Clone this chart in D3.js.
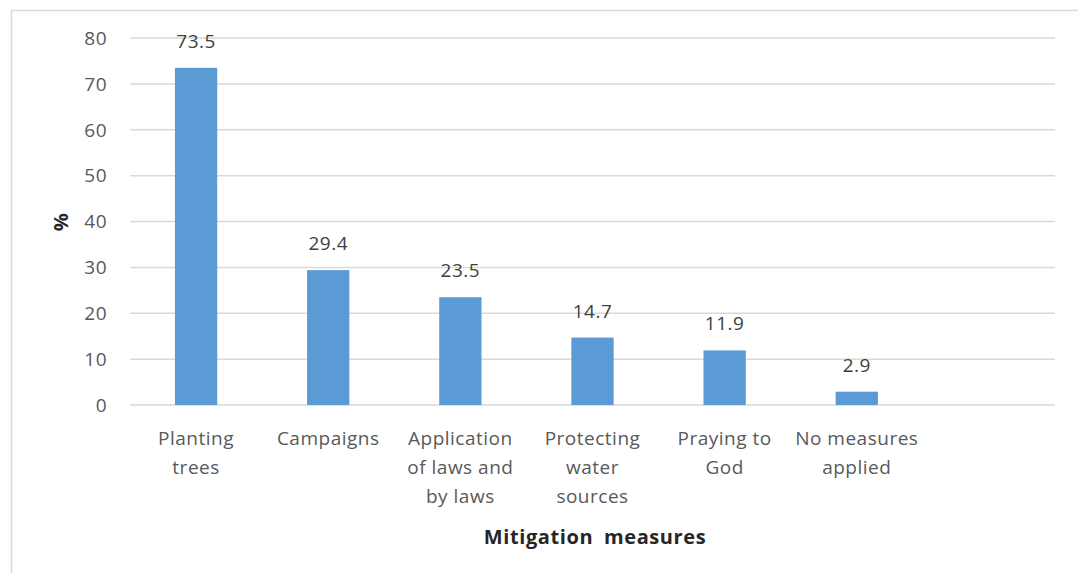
<!DOCTYPE html>
<html lang="en">
<head>
  <meta charset="UTF-8">
  <title>Mitigation measures</title>
  <script src="https://d3js.org/d3.v7.min.js"></script>
  <style>
    body { margin: 0; background: #fff; }
    text { font-family: "Open Sans", sans-serif; }
    .grid line { stroke: #d9d9d9; stroke-width: 1.5px; }
    .tick-label { font-size: 19px; fill: #595959; letter-spacing: 0.5px; }
    .value-label { font-size: 19px; fill: #404040; letter-spacing: 0.5px; }
    .axis-title { font-size: 20px; font-weight: bold; fill: #262626; letter-spacing: 0.6px; word-spacing: 5px; }
  </style>
</head>
<body>
  <svg id="chart" width="1078" height="573"></svg>
  <script>
    // data
    const categories = ["Planting trees", "Campaigns", "Application of laws and by laws",
      "Protecting water sources", "Praying to God", "No measures applied", ""];
    const values = [73.5, 29.4, 23.5, 14.7, 11.9, 2.9, null];
    const categoryLines = [
      ["Planting", "trees"],
      ["Campaigns"],
      ["Application", "of laws and", "by laws"],
      ["Protecting", "water", "sources"],
      ["Praying to", "God"],
      ["No measures", "applied"],
      []
    ];
    const yTicks = [0, 10, 20, 30, 40, 50, 60, 70, 80];

    const width = 1078, height = 573;
    const margin = { top: 38, right: 23, bottom: 168, left: 130 };

    const svg = d3.select("#chart");

    // outer chart border
    svg.append("rect")
      .attr("x", 11.5).attr("y", 10.5)
      .attr("width", width + 20).attr("height", height + 20)
      .attr("fill", "none")
      .attr("stroke", "#d9d9d9")
      .attr("stroke-width", 1.5);

    const x = d3.scaleBand()
      .domain(categories.map((d, i) => i))
      .range([margin.left, width - margin.right])
      .paddingInner(0.68)
      .paddingOuter(0.34);

    const y = d3.scaleLinear()
      .domain([0, 80])
      .range([height - margin.bottom, margin.top]);

    // gridlines
    svg.append("g").attr("class", "grid")
      .selectAll("line")
      .data(yTicks)
      .join("line")
      .attr("x1", margin.left)
      .attr("x2", width - margin.right)
      .attr("y1", d => y(d))
      .attr("y2", d => y(d));

    // y tick labels
    svg.append("g")
      .selectAll("text")
      .data(yTicks)
      .join("text")
      .attr("class", "tick-label")
      .attr("x", 107)
      .attr("y", d => y(d))
      .attr("dy", "0.36em")
      .attr("text-anchor", "end")
      .text(d => d);

    const bars = values.map((v, i) => ({ i, v })).filter(d => d.v != null);

    // bars
    svg.append("g")
      .selectAll("rect")
      .data(bars)
      .join("rect")
      .attr("x", d => x(d.i))
      .attr("width", x.bandwidth())
      .attr("y", d => y(d.v))
      .attr("height", d => y(0) - y(d.v))
      .attr("fill", "#5b9bd5");

    // value labels
    svg.append("g")
      .selectAll("text")
      .data(bars)
      .join("text")
      .attr("class", "value-label")
      .attr("x", d => x(d.i) + x.bandwidth() / 2)
      .attr("y", d => y(d.v) - 20)
      .attr("text-anchor", "middle")
      .text(d => d.v.toFixed(1));

    // category labels, wrapped like the original
    svg.append("g")
      .selectAll("text")
      .data(categoryLines)
      .join("text")
      .attr("class", "tick-label")
      .attr("text-anchor", "middle")
      .attr("x", (d, i) => x(i) + x.bandwidth() / 2)
      .attr("y", 445)
      .selectAll("tspan")
      .data((d, i) => d.map(s => ({ s, i })))
      .join("tspan")
      .attr("x", d => x(d.i) + x.bandwidth() / 2)
      .attr("dy", (d, j) => j === 0 ? 0 : 29)
      .text(d => d.s);

    // axis titles
    svg.append("text")
      .attr("class", "axis-title")
      .attr("x", 595)
      .attr("y", 544)
      .attr("text-anchor", "middle")
      .text("Mitigation measures");

    svg.append("text")
      .attr("class", "axis-title")
      .attr("transform", "translate(68,222) rotate(-90)")
      .attr("text-anchor", "middle")
      .text("%");
  </script>
</body>
</html>
